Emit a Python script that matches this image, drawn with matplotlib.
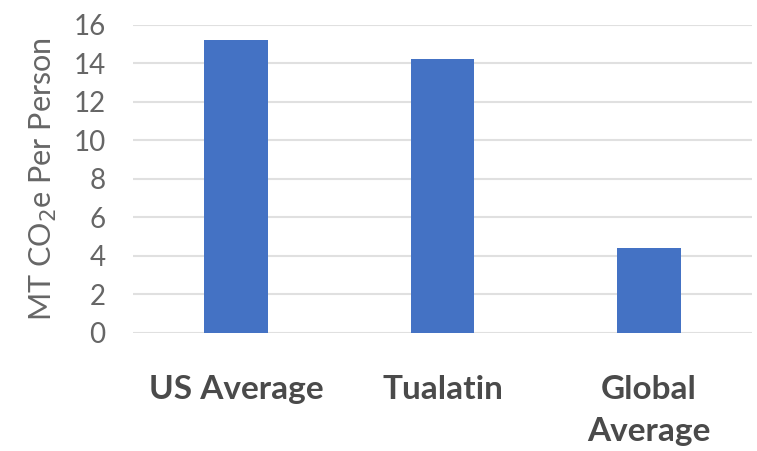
import matplotlib.pyplot as plt

plt.rcParams['font.family'] = ['Lato', 'DejaVu Sans']

categories = ['US Average', 'Tualatin', 'Global\nAverage']
values = [15.2, 14.2, 4.4]
yticks = [0, 2, 4, 6, 8, 10, 12, 14, 16]

fig = plt.figure(figsize=(7.57, 4.51), dpi=100)
ax = fig.add_axes([0.176, 0.262, 0.817, 0.683])

ax.bar(range(len(categories)), values, width=0.31, color='#4472C4', zorder=3)
ax.set_xlim(-0.5, 2.5)
ax.set_ylim(0, 16)
ax.set_yticks(yticks)
ax.yaxis.grid(True, color='#e0e0e0', linewidth=1.5, zorder=0)
for s in ax.spines.values():
    s.set_visible(False)
ax.tick_params(axis='both', length=0)
ax.tick_params(axis='y', labelsize=20, labelcolor='#666666', pad=20)
ax.set_xticks(range(len(categories)))
ax.set_xticklabels(categories, fontsize=24, color='#4a4a4a', fontweight='bold',
                   linespacing=1.55)
ax.tick_params(axis='x', pad=30)
ax.set_ylabel('MT CO$_2$e Per Person', fontsize=22, color='#666666', labelpad=10)

fig.savefig('out.png', dpi=100)
